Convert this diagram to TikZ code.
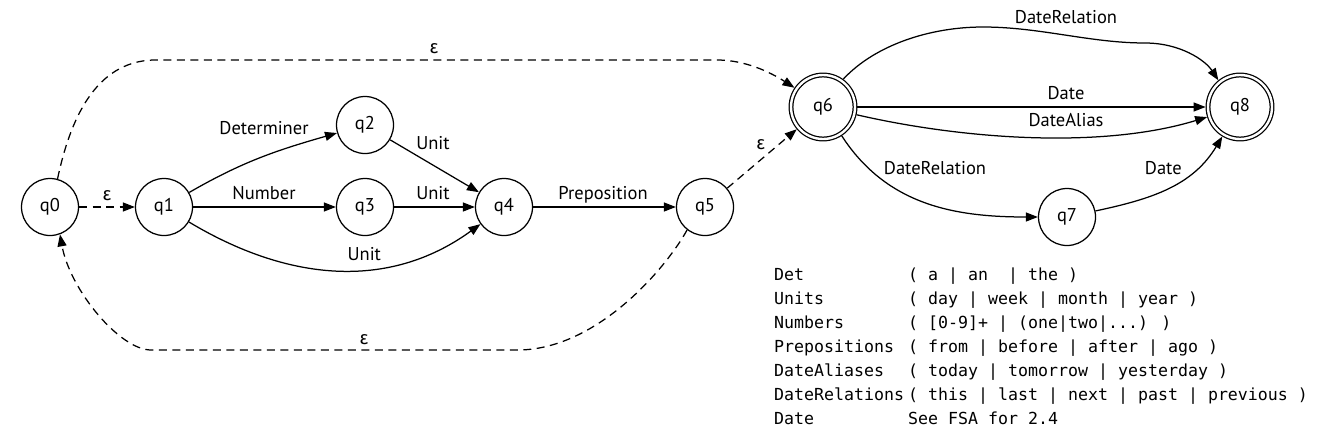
\documentclass[tikz,border=0pt]{standalone}
\usepackage{fontspec}
\setmainfont{PT Sans}
\newfontfamily\grk{Fira Sans}
\newfontfamily\mono{DejaVu Sans Mono}
\usetikzlibrary{arrows.meta}
\begin{document}
\begin{tikzpicture}[x=1pt,y=-1pt,
  every node/.style={font=\fontsize{18.5}{20}\selectfont},
  state/.style={circle, draw, line width=1.25pt, minimum size=57pt, inner sep=0pt},
  accept/.style={state, double, double distance=2.4pt, minimum size=64pt, outer sep=2.4pt},
  edge/.style={line width=1.25pt, -{Triangle[length=12pt,width=9pt]}},
  eps/.style={edge, dash pattern=on 8pt off 5.5pt},
  lbl/.style={anchor=base, inner sep=0pt},
  leg/.style={anchor=base west, inner sep=0pt, font=\mono\fontsize{16.6}{20}\selectfont}]
\useasboundingbox (0,0) rectangle (1332,439);

% states
\node[state] (q0) at (50,207) {q0};
\node[state] (q1) at (164,207) {q1};
\node[state] (q2) at (365,125) {q2};
\node[state] (q3) at (365,207) {q3};
\node[state] (q4) at (504,207) {q4};
\node[state] (q5) at (705,207) {q5};
\node[accept] (q6) at (823,107) {q6};
\node[state] (q7) at (1067,217) {q7};
\node[accept] (q8) at (1240,107) {q8};

% bend points of the long epsilon arcs
\coordinate (ta) at (153,60);
\coordinate (tb) at (717,60);
\coordinate (ba) at (520,350);
\coordinate (bb) at (151,350);

% connectors
\draw[eps] (q0) -- (q1);
\draw[edge] (q1) to[out=30,in=196] (q2);
\draw[edge] (q1) -- (q3);
\draw[edge] (q1) to[out=-31,in=-144] (q4);
\draw[edge] (q2) -- (q4);
\draw[edge] (q3) -- (q4);
\draw[edge] (q4) -- (q5);
\draw[eps] (q5) -- (q6);
\draw[eps] (q0.75) .. controls (70,120) and (95,62) .. (ta) -- (tb)
  .. controls (745,60) and (770,72) .. (q6.146);
\draw[eps] (q5.232) .. controls (668,265) and (600,348) .. (ba) -- (bb)
  .. controls (120,350) and (70,290) .. (q0.290);
\draw[edge] (q6) -- (q8);
\draw[edge] (q6) to[out=-13,in=197,looseness=0.8] (q8);
\draw[edge] (q6.54) .. controls (875,45) and (930,27) .. (983,27)
  .. controls (1040,27) and (1090,43) .. (1145,43)
  .. controls (1180,43) and (1205,60) .. (q8.129);
\draw[edge] (q6) to[out=-57,in=180] (q7);
\draw[edge] (q7) to[out=12,in=239] (q8);

% labels
\node[lbl] (l01) at (107,200) {\grk ε};
\node[lbl] (l12) at (264,134.3) {Determiner};
\node[lbl] (l13) at (264,199.3) {Number};
\node[lbl] (l14) at (364.3,260.7) {Unit};
\node[lbl] (l24) at (433,149.3) {Unit};
\node[lbl] (l34) at (433,199) {Unit};
\node[lbl] (l45) at (603,199.3) {Preposition};
\node[lbl] (l56) at (760.7,149.3) {\grk ε};
\node[lbl] (l06) at (434,53.3) {\grk ε};
\node[lbl] (l50) at (364,344) {\grk ε};
\node[lbl] (l68a) at (1066,23.3) {DateRelation};
\node[lbl] (l68b) at (1066,99.3) {Date};
\node[lbl] (l68c) at (1066,126) {DateAlias};
\node[lbl] (l67) at (935,174.3) {DateRelation};
\node[lbl] (l78) at (1163.3,174.3) {Date};

% legend
\foreach \k/\v [count=\i from 0] in {
  Det/{( a | an~~| the )},
  Units/{( day | week | month | year )},
  Numbers/{( [0-9]+ | (one|two|...) )},
  Prepositions/{( from | before | after | ago )},
  DateAliases/{( today | tomorrow | yesterday )},
  DateRelations/{( this | last | next | past | previous )},
  Date/{See FSA for 2.4}} {
  \node[leg] (k\i) at (774,280+24*\i) {\k};
  \node[leg] (v\i) at (908,280+24*\i) {\v};
}
\end{tikzpicture}
\end{document}
